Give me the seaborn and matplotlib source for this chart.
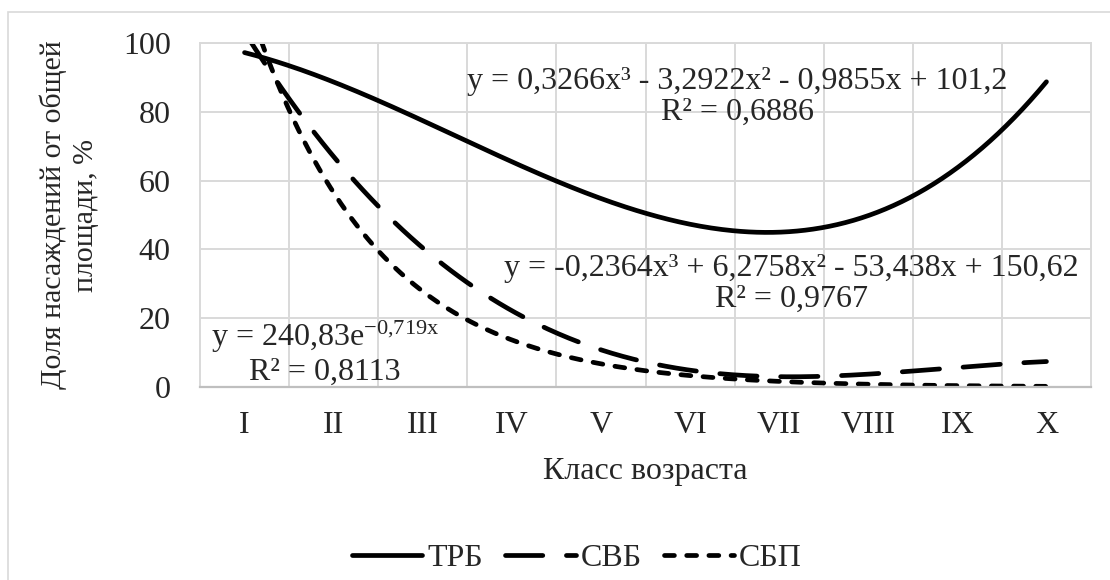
import numpy as np
import pandas as pd
import matplotlib
matplotlib.use("Agg")
import matplotlib.pyplot as plt
import seaborn as sns
from matplotlib.patches import Rectangle
from matplotlib.lines import Line2D

sns.set_style("white")
plt.rcParams['font.family'] = ['Liberation Serif', 'DejaVu Serif']
plt.rcParams['mathtext.fontset'] = 'custom'
plt.rcParams['mathtext.rm'] = 'Liberation Serif'
plt.rcParams['mathtext.it'] = 'Liberation Serif:italic'

# age classes and the share (%) read at each class from the trend curves
age_classes = ['I', 'II', 'III', 'IV', 'V', 'VI', 'VII', 'VIII', 'IX', 'X']
class_num = [1, 2, 3, 4, 5, 6, 7, 8, 9, 10]
trb = [97.2, 88.7, 77.4, 65.5, 54.8, 47.3, 45.0, 49.8, 63.8, 88.7]
svb = [103.2, 67.0, 40.4, 22.2, 10.8, 4.9, 3.0, 3.7, 5.7, 7.4]
sbp = [117.3, 57.2, 27.9, 13.6, 6.6, 3.2, 1.6, 0.8, 0.4, 0.2]

series_names = ['ТРБ', 'СВБ', 'СБП']
trend_labels = [
    'y = 0,3266x³ - 3,2922x² - 0,9855x + 101,2\nR² = 0,6886',
    'y = -0,2364x³ + 6,2758x² - 53,438x + 150,62\nR² = 0,9767',
    r'y = 240,83$\mathregular{e^{-0{,}719x}}$' + '\nR² = 0,8113',
]

FS = 23
GRID = '#d9d9d9'

# trend lines like Excel: cubic for ТРБ and СВБ, exponential for СБП
xx = np.linspace(1, 10, 300)
x = np.array(class_num, dtype=float)
trend = pd.DataFrame({
    'x': np.tile(xx, 3),
    'series': np.repeat(series_names, len(xx)),
    'y': np.concatenate([
        np.polyval(np.polyfit(x, trb, 3), xx),
        np.polyval(np.polyfit(x, svb, 3), xx),
        np.exp(np.polyval(np.polyfit(x, np.log(sbp), 1), xx)),
    ]),
})

fig, ax = plt.subplots(figsize=(11.1, 5.8), dpi=100)
fig.subplots_adjust(left=200/1110, right=1091/1110, top=1-43/580, bottom=1-387/580)

# chart area border
fig.patches.append(Rectangle((8/1110, -0.2), 1.2, 1.2 - 12/580, transform=fig.transFigure,
                             fill=False, edgecolor=GRID, linewidth=1.2))

lw = 3.4
styles = {'ТРБ': None,
          'СВБ': (0, (7.9, 5.0)),
          'СБП': (0, (2.1, 2.6))}
handles = []
for name in series_names:
    d = trend[trend['series'] == name]
    sns.lineplot(data=d, x='x', y='y', ax=ax, color='black', linewidth=lw,
                 legend=False, sort=False)
    line = ax.lines[-1]
    h = Line2D([], [], color='black', linewidth=lw)
    if styles[name] is not None:
        line.set_linestyle(styles[name])
        h.set_linestyle(styles[name])
    for ln in (line, h):
        ln.set_dash_capstyle('round')
        ln.set_solid_capstyle('round')
    handles.append(h)

ax.set_xlim(0.5, 10.5)
ax.set_ylim(0, 100)
ax.set_xticks(class_num)
ax.set_xticklabels(age_classes)
ax.set_xticks(np.arange(1.5, 10.5, 1), minor=True)
ax.set_yticks([0, 20, 40, 60, 80, 100])
ax.tick_params(axis='both', which='both', length=0, labelsize=FS)
ax.tick_params(axis='y', pad=21)
ax.tick_params(axis='x', pad=17)
ax.grid(True, which='major', axis='y', color=GRID, linewidth=1.4)
ax.grid(True, which='minor', axis='x', color=GRID, linewidth=1.4)
ax.set_axisbelow(True)
for side in ['left', 'right', 'top']:
    ax.spines[side].set_color(GRID)
    ax.spines[side].set_linewidth(1.4)
ax.spines['bottom'].set_color('#bfbfbf')
ax.spines['bottom'].set_linewidth(1.6)

ax.set_xlabel('')
ax.set_ylabel('')
fig.text(645/1110, 1-472/580, 'Класс возраста', ha='center', va='center', fontsize=FS)
fig.text(69/1110, 1-215/580, 'Доля насаждений от общей\nплощади, %', ha='center',
         va='center', rotation=90, fontsize=21.5, linespacing=1.3)

# trendline equations
label_pos = [(6.53, 84.4), (7.14, 30.0), (1.90, 9.9)]
for (tx, ty), txt in zip(label_pos, trend_labels):
    ax.text(tx, ty, txt, ha='center', va='center', fontsize=FS,
            multialignment='center', linespacing=1.1)

fig.legend(handles, series_names, loc='center', bbox_to_anchor=(577/1110, 1-558/580),
           ncol=3, frameon=False, fontsize=FS, handlelength=2.2, handletextpad=0.15,
           columnspacing=0.7)

fig.savefig('out.png', dpi=100)
